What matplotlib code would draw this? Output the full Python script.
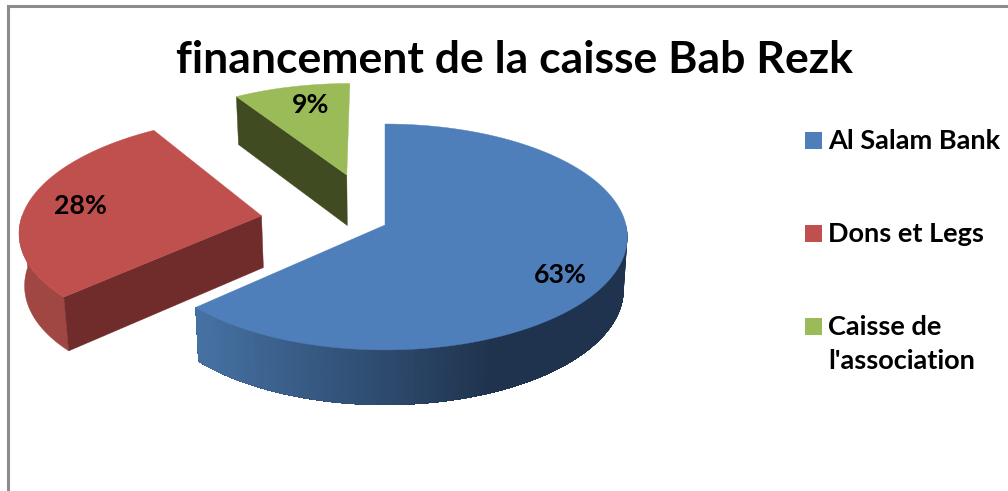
import numpy as np
import matplotlib
matplotlib.use('Agg')
import matplotlib.pyplot as plt
from matplotlib.patches import Polygon, Rectangle

categories = ['Al Salam Bank', 'Dons et Legs', "Caisse de\nl'association"]
shares = [63, 28, 9]
pct_labels = ['63%', '28%', '9%']
title = 'financement de la caisse Bab Rezk'

top_colors = ['#4f7fbb', '#bf504d', '#9bbb59']
wall_colors = ['#4a78ad', '#a04744', '#7f9a48']
face_colors = ['#1f3550', '#6f2c2a', '#404b22']
explode = [0.0, 0.52, 0.52]
nudge = [(0, 0), (0, -2), (-5, 3)]

cx, cy = 385, 225   # apex of the unexploded slice
rx, ry, k = 241, 111.7, 0.106


def project(u, v):
    d = 1 + k * v
    return cx + u * rx / d, cy - v * ry / d


def lower(u, v):
    # same point on the bottom of the pie
    x, y = project(u, v)
    return cx + (x - cx) * 0.985, y + 52 - 3 * v


def arc(a0, a1, e, mid):
    a = np.radians(np.linspace(a0, a1, 120))
    m = np.radians(mid)
    return e * np.sin(m) + np.sin(a), e * np.cos(m) + np.cos(a)


def side_strip(ax, u, v, color, z, shift=(0, 0), lw=0.3):
    x0, y0 = project(u, v)
    x1, y1 = lower(u, v)
    pts = np.r_[np.c_[x0, y0], np.c_[x1, y1][::-1]] + np.array(shift)
    ax.add_patch(Polygon(pts, closed=True, fc=color, ec=color if lw else 'none', lw=lw, zorder=z))


def blue_shade(x):
    # darkens left to right along the front of the big slice
    t = np.clip((x - 197) / 300, 0, 1)
    c0 = np.array([0x46, 0x72, 0xa4]) / 255
    c1 = np.array([0x1f, 0x33, 0x4e]) / 255
    return c0 + (c1 - c0) * t


fig = plt.figure(figsize=(10.08, 4.91), dpi=100)
ax = fig.add_axes([0, 0, 1, 1])
ax.set_xlim(0, 1008)
ax.set_ylim(491, 0)
ax.axis('off')

ax.plot([8, 8, 1008], [491, 6, 6], color='#8c8c8c', lw=2.2, solid_joinstyle='miter')

ends = np.cumsum(shares) / np.sum(shares) * 360
starts = np.r_[0, ends[:-1]]

# far slices first so the big one sits on top
for i in [2, 1, 0]:
    a0, a1 = starts[i], ends[i]
    mid = (a0 + a1) / 2
    e = explode[i]
    m = np.radians(mid)
    au, av = e * np.sin(m), e * np.cos(m)
    z = 3 - i * 0.5
    shift = nudge[i]

    # outer wall, only the part turned towards the viewer
    w0, w1 = max(a0, 90), min(a1, 270)
    if w1 > w0:
        u, v = arc(w0, w1, e, mid)
        if i == 0:
            # each strip runs on to the end so no seams show between them
            for j in range(len(u) - 1):
                xm = project(u[j], v[j])[0]
                side_strip(ax, u[j:], v[j:], blue_shade(xm), z, shift, lw=0)
        else:
            side_strip(ax, u, v, wall_colors[i], z, shift)

    # cut faces
    for ang, visible in [(a0, np.sin(np.radians(a0)) < -1e-6), (a1, np.sin(np.radians(a1)) > 1e-6)]:
        if visible:
            r = np.radians(ang)
            u = np.array([au, au + np.sin(r)])
            v = np.array([av, av + np.cos(r)])
            side_strip(ax, u, v, face_colors[i], z + 0.1, shift)

    # top
    u, v = arc(a0, a1, e, mid)
    x, y = project(np.r_[au, u], np.r_[av, v])
    pts = np.c_[x, y] + np.array(shift)
    ax.add_patch(Polygon(pts, closed=True, fc=top_colors[i], ec=top_colors[i], lw=0.3, zorder=z + 0.2))

label_xy = [(560, 275), (80, 206), (311, 105)]
for lab, (lx, ly) in zip(pct_labels, label_xy):
    ax.text(lx, ly, lab, family='Lato', fontweight='bold', fontsize=19.3, color='black',
            ha='center', va='center', zorder=10)

ax.text(514, 60, title, family='Lato', fontweight='bold', fontsize=32, color='black',
        ha='center', va='center', zorder=10)

legend_y = [140, 233, 326]
for name, col, ly in zip(categories, top_colors, legend_y):
    ax.add_patch(Rectangle((805, ly - 8.5), 17, 17, fc=col, ec='none', zorder=10))
    ax.text(828, ly - 11, name, family='Lato', fontweight='bold', fontsize=19.5, color='black',
            ha='left', va='top', linespacing=1.5, zorder=10)

fig.savefig('out.png', dpi=100)
